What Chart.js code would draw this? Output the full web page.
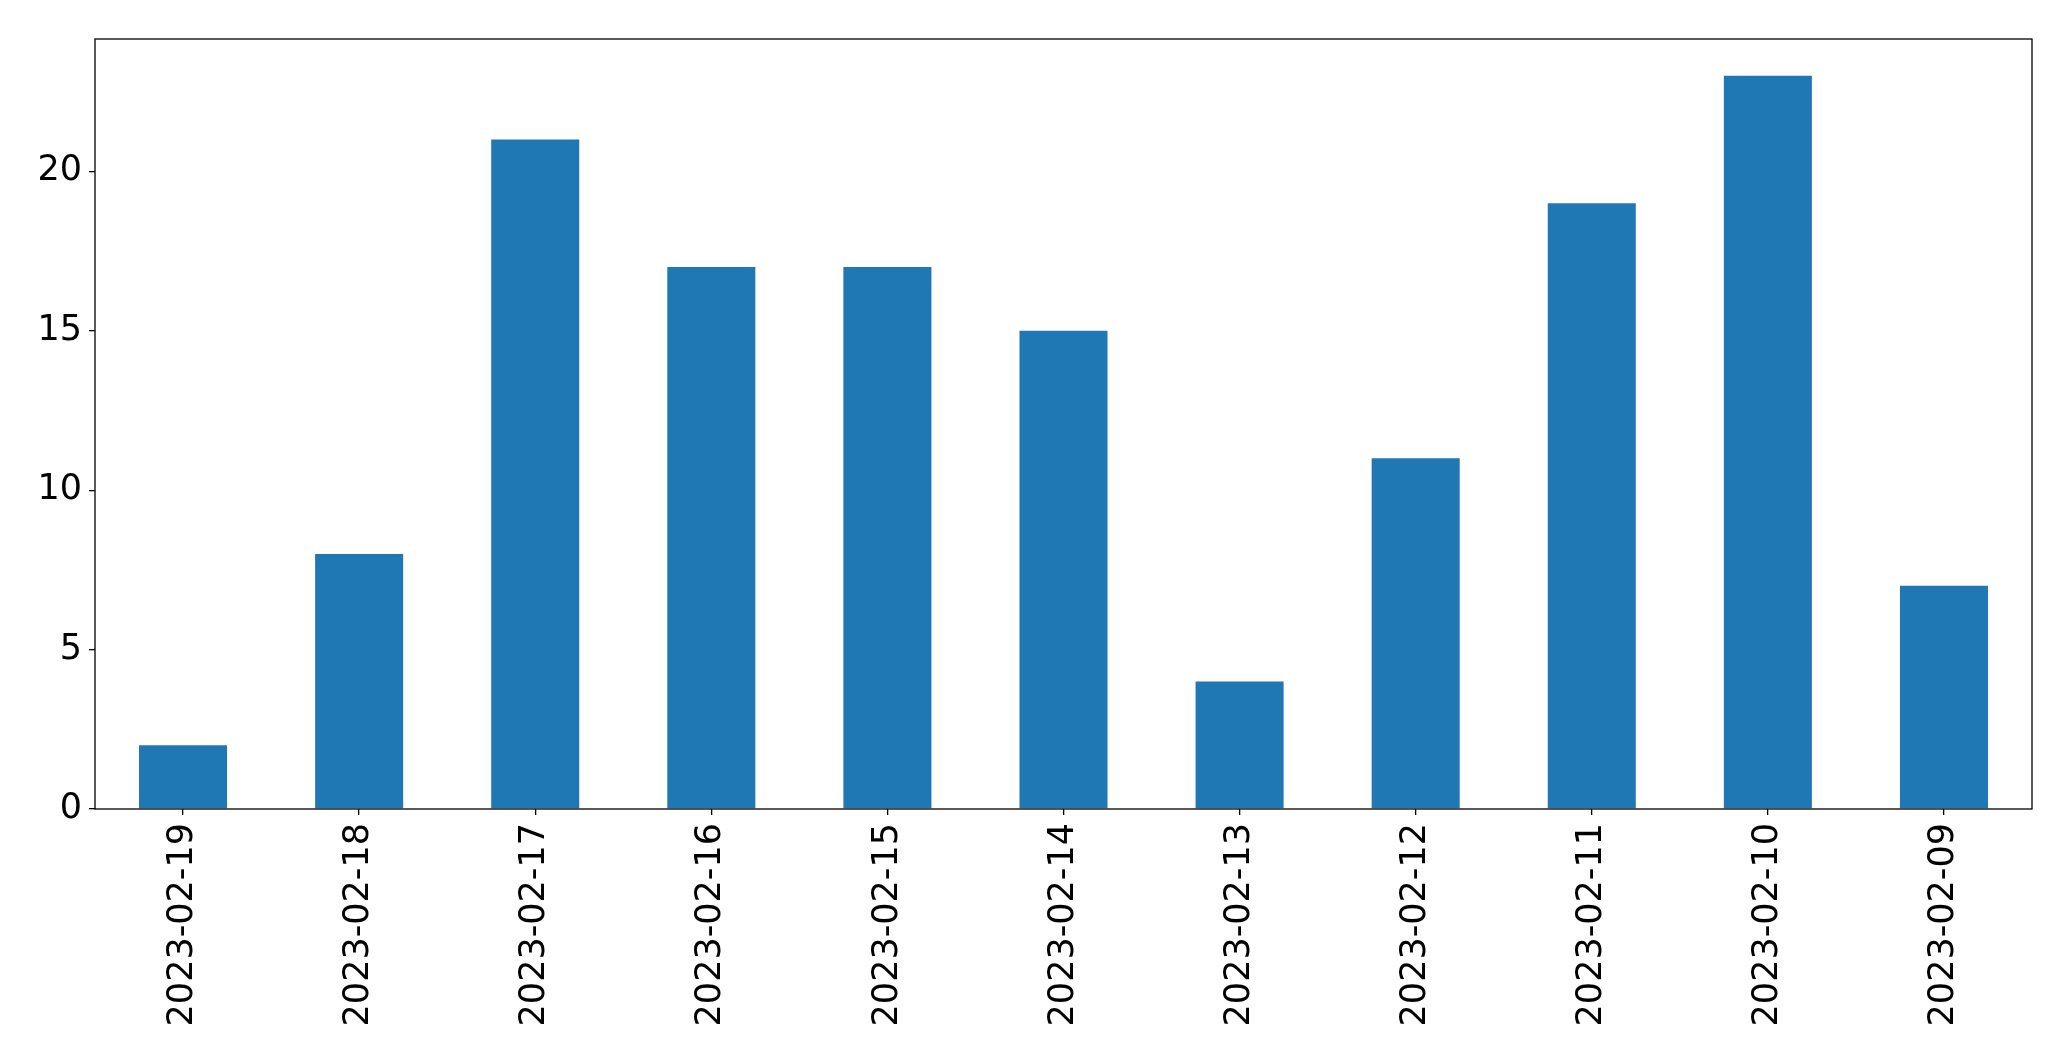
<!DOCTYPE html>
<html>
    <head>
        <meta charset="UTF-8">
        <script src="https://cdn.jsdelivr.net/npm/chart.js@4"></script>
        <title>Bar chart</title>
        <style>
            html, body { margin: 0; padding: 0; background: #ffffff; }
            #wrap { width: 2071px; height: 1061px; }
        </style>
    </head>
    <body>
        <div id="wrap"><canvas id="chart" width="2071" height="1061"></canvas></div>
        <script>
            // datos
            var fechas = ["2023-02-19", "2023-02-18", "2023-02-17", "2023-02-16", "2023-02-15", "2023-02-14",
                          "2023-02-13", "2023-02-12", "2023-02-11", "2023-02-10", "2023-02-09"];
            var cuentas = [2, 8, 21, 17, 17, 15, 4, 11, 19, 23, 7];
            var yTicks = [0, 5, 10, 15, 20];

            // marco completo alrededor del area (como matplotlib)
            var marco = {
                id: 'marco',
                afterDraw: function(chart) {
                    var a = chart.chartArea, ctx = chart.ctx;
                    ctx.save();
                    ctx.strokeStyle = '#000000';
                    ctx.lineWidth = 1.3;
                    ctx.strokeRect(a.left, a.top, a.right - a.left, a.bottom - a.top);
                    ctx.restore();
                }
            };

            var fuente = { family: 'DejaVu Sans', size: 35 };

            var canvas = document.getElementById('chart').getContext('2d');
            new Chart(canvas, {
                type: 'bar',
                data: {
                    labels: fechas,
                    datasets: [{
                        data: cuentas,
                        backgroundColor: '#1f77b4',
                        barPercentage: 0.5,
                        categoryPercentage: 1.0
                    }]
                },
                options: {
                    responsive: false,
                    animation: false,
                    layout: { padding: { top: 39, right: 39, left: 0, bottom: 0 } },
                    plugins: { legend: { display: false }, tooltip: { enabled: false } },
                    scales: {
                        x: {
                            offset: true,
                            grid: { display: true, offset: false, drawOnChartArea: false, drawTicks: true,
                                    tickLength: 6, color: '#000000', lineWidth: 1.3 },
                            border: { display: false },
                            ticks: { color: '#000000', font: fuente, maxRotation: 90, minRotation: 90,
                                     autoSkip: false, padding: 8 },
                            afterFit: function(s) { s.height = 252; }
                        },
                        y: {
                            min: 0,
                            max: 24.15,
                            grid: { display: true, drawOnChartArea: false, drawTicks: true,
                                    tickLength: 6, color: '#000000', lineWidth: 1.3 },
                            border: { display: false },
                            ticks: { color: '#000000', font: fuente, padding: 7, includeBounds: false },
                            afterBuildTicks: function(s) {
                                s.ticks = yTicks.map(function(v) { return { value: v }; });
                            },
                            afterFit: function(s) { s.width = 95; }
                        }
                    }
                },
                plugins: [marco]
            });
        </script>
    </body>
</html>
